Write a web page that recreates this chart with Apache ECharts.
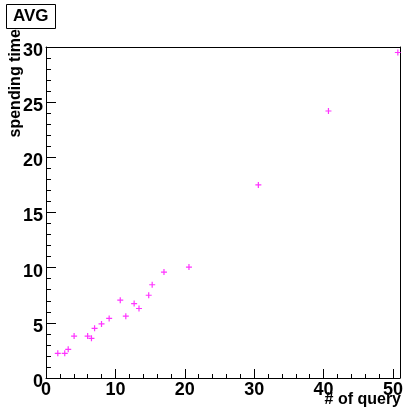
<!DOCTYPE html>
<html>
<head>
<meta charset="utf-8">
<script src="https://cdn.jsdelivr.net/npm/echarts@6/dist/echarts.min.js"></script>
<style>html,body{margin:0;padding:0;background:#fff}#c{width:406px;height:411px}</style>
</head>
<body>
<div id="c"></div>
<script>
var titleText = 'AVG';
var xTitle = '# of query';
var yTitle = 'spending time';
var xValues = [1.7, 2.7, 3.2, 4.05, 6.0, 6.55, 7.0, 8.0, 9.1, 10.7, 11.5, 12.7, 13.4, 14.8, 15.3, 17.0, 20.6, 30.6, 40.7, 50.7];
var yValues = [2.24, 2.24, 2.6, 3.8, 3.8, 3.6, 4.5, 4.9, 5.4, 7.05, 5.6, 6.75, 6.3, 7.5, 8.45, 9.6, 10.05, 17.5, 24.2, 29.5];
var xMajorTicks = [0, 10, 20, 30, 40, 50];
var xMinorTicks = [0, 2, 4, 6, 8, 10, 12, 14, 16, 18, 20, 22, 24, 26, 28, 30, 32, 34, 36, 38, 40, 42, 44, 46, 48, 50];
var xMin = 0, xMax = 51;
var yMin = 0, yMax = 30, yStep = 5;

var FONT = '"Liberation Sans", Arial, Helvetica, sans-serif';
var points = xValues.map(function (x, i) { return [x, yValues[i]]; });
var frameAxis = {
  axisLine: {show: true, onZero: false, lineStyle: {color: '#000', width: 1}},
  axisTick: {show: false}, axisLabel: {show: false}, splitLine: {show: false}
};

var chart = echarts.init(document.getElementById('c'), null, {renderer: 'canvas'});
chart.setOption({
  backgroundColor: '#fff',
  animation: false,
  title: {
    text: titleText, left: 6, top: 4,
    padding: [4, 7, 4, 7],
    borderColor: '#000', borderWidth: 1,
    textStyle: {fontFamily: FONT, fontWeight: 'bold', fontSize: 17, color: '#000', lineHeight: 17}
  },
  grid: {left: 46, right: 4, top: 47, bottom: 33},
  xAxis: [{
    type: 'value', min: xMin, max: xMax, position: 'bottom',
    axisLine: {show: true, onZero: false, lineStyle: {color: '#000', width: 1}},
    axisTick: {show: true, inside: true, length: 4, customValues: xMinorTicks, lineStyle: {color: '#000'}},
    axisLabel: {show: false},
    splitLine: {show: false}
  }, {
    type: 'value', min: xMin, max: xMax, position: 'bottom',
    axisLine: {show: false},
    axisTick: {show: true, inside: true, length: 9, customValues: xMajorTicks, lineStyle: {color: '#000'}},
    axisLabel: {show: true, customValues: xMajorTicks, margin: 3, color: '#000', fontFamily: FONT, fontWeight: 'bold', fontSize: 18},
    splitLine: {show: false}
  }, Object.assign({type: 'value', min: xMin, max: xMax, position: 'top'}, frameAxis)],
  yAxis: [{
    type: 'value', min: yMin, max: yMax, interval: yStep, position: 'left',
    axisLine: {show: true, onZero: false, lineStyle: {color: '#000', width: 1}},
    axisTick: {show: true, inside: true, length: 10, lineStyle: {color: '#000'}},
    minorTick: {show: true, splitNumber: 5, length: 5, lineStyle: {color: '#000'}},
    axisLabel: {margin: 3, color: '#000', fontFamily: FONT, fontWeight: 'bold', fontSize: 18, verticalAlign: 'top', lineHeight: 8},
    splitLine: {show: false}
  }, Object.assign({type: 'value', min: yMin, max: yMax, position: 'right'}, frameAxis)],
  graphic: [{
    type: 'text', x: 16, y: 29, rotation: Math.PI / 2,
    style: {text: yTitle, fill: '#000', font: 'bold 16px ' + FONT, textAlign: 'right', textVerticalAlign: 'middle'}
  }, {
    type: 'text', x: 401, y: 392,
    style: {text: xTitle, fill: '#000', font: 'bold 16px ' + FONT, textAlign: 'right', textVerticalAlign: 'top'}
  }],
  series: [{
    type: 'scatter', xAxisIndex: 1, yAxisIndex: 0, data: points,
    symbol: 'path://M0,2H5V3H0ZM2,0H3V5H2Z', symbolSize: 6,
    itemStyle: {color: '#ff00ff'}
  }]
});
</script>
</body>
</html>
